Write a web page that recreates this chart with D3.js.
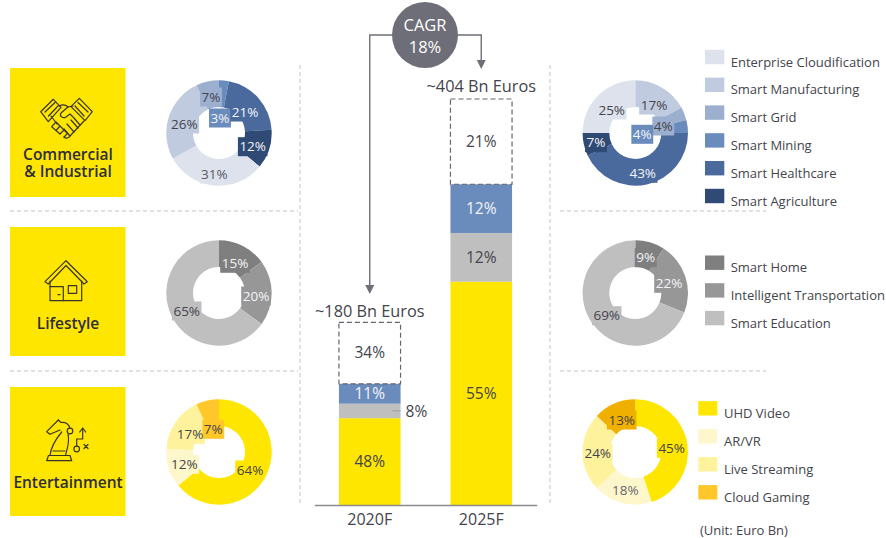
<!DOCTYPE html>
<html>
<head>
<meta charset="utf-8">
<script src="https://cdn.jsdelivr.net/npm/d3@7"></script>
<style>
  html, body { margin: 0; padding: 0; background: #fff; }
  svg { display: block; }
  text { font-family: "Open Sans", sans-serif; fill: #44444c; }
</style>
</head>
<body>
<div id="chart"></div>
<script>
// categories
const commercialCats = ["Enterprise Cloudification", "Smart Manufacturing", "Smart Grid", "Smart Mining", "Smart Healthcare", "Smart Agriculture"];
const lifestyleCats = ["Smart Home", "Intelligent Transportation", "Smart Education"];
const entertainmentCats = ["UHD Video", "AR/VR", "Live Streaming", "Cloud Gaming"];

// donut values, clockwise from 12 o'clock
const commercial2020Order = ["Smart Mining", "Smart Healthcare", "Smart Agriculture", "Enterprise Cloudification", "Smart Manufacturing", "Smart Grid"];
const commercial2020 = [3, 21, 12, 31, 26, 7];
const commercial2025Order = ["Smart Manufacturing", "Smart Grid", "Smart Mining", "Smart Healthcare", "Smart Agriculture", "Enterprise Cloudification"];
const commercial2025 = [17, 4, 4, 43, 7, 25];
const lifestyle2020 = [15, 20, 65];
const lifestyle2025 = [9, 22, 69];
const entertainment2020 = [64, 12, 17, 7];
const entertainment2025 = [45, 18, 24, 13];

// stacked bar
const years = ["2020F", "2025F"];
const totals = [180, 404];
const totalLabels = ["~180 Bn Euros", "~404 Bn Euros"];
const segEntertainment = [48, 55];
const segLifestyle = [8, 12];
const segCommercial = [11, 12];
const segOther = [34, 21];

const tileNames = [["Commercial", "& Industrial"], ["Lifestyle"], ["Entertainment"]];

// colours
const blues = ["#dde2ec", "#c0cbdf", "#9dafcf", "#6a8cbc", "#4a6a9e", "#2f4a75"];
const greys = ["#7f7f7f", "#979797", "#bfbfbf"];
const yellows = ["#ffe600", "#fff7cc", "#fff29c", "#ffc72a"];
const yellows2025 = ["#ffe600", "#fff7cc", "#fff29c", "#f0b000"];
const yellow = "#ffe600", ink = "#44444c", dash = "#c4c4c4";

const colorC = d3.scaleOrdinal(commercialCats, blues);
const colorL = d3.scaleOrdinal(lifestyleCats, greys);
const colorE = d3.scaleOrdinal(entertainmentCats, yellows);
const colorE2 = d3.scaleOrdinal(entertainmentCats, yellows2025);

const width = 886, height = 538;
const svg = d3.select("#chart").append("svg").attr("width", width).attr("height", height);

// dashed separators
const separators = [[300, 65, 300, 505], [550, 65, 550, 505], [10, 211, 298, 211], [10, 371, 298, 371], [560, 211, 766, 211], [560, 371, 766, 371]];
svg.append("g").selectAll("line").data(separators).enter().append("line")
    .attr("x1", d => d[0]).attr("y1", d => d[1]).attr("x2", d => d[2]).attr("y2", d => d[3])
    .attr("stroke", dash).attr("stroke-width", 1).attr("stroke-dasharray", "4 3");

// yellow tiles
const tileTops = [68, 227, 387];
const tiles = svg.append("g").selectAll("g").data(tileNames).enter().append("g")
    .attr("transform", (d, i) => `translate(10,${tileTops[i]})`);
tiles.append("rect").attr("width", 115.5).attr("height", 129).attr("fill", yellow);

const nameY = [91.5, 101.5, 100.5];
tiles.each(function (lines, i) {
    const t = d3.select(this).append("text")
        .attr("y", nameY[i])
        .attr("text-anchor", "middle")
        .attr("font-size", 15.5).attr("font-weight", 600)
        .style("fill", "#2e2e38");
    t.selectAll("tspan").data(lines).enter().append("tspan")
        .attr("x", 58).attr("dy", (d, j) => j ? 17 : 0)
        .text(d => d);
});

// icons, drawn in the tile's own coordinates
const iconInk = "#3a3528";
function icon(i, paths) {
    svg.append("g").attr("transform", `translate(10,${tileTops[i]})`)
        .selectAll("path").data(paths).enter().append("path")
        .attr("d", d => d).attr("fill", "none").attr("stroke", iconInk)
        .attr("stroke-width", 1.2).attr("stroke-linejoin", "round").attr("stroke-linecap", "round");
}
// handshake
icon(0, [
    "M30.7 43.7L43.3 31.3L51 39.3L38.3 53.7Z",
    "M35 44L45 34.5M38.5 48L48 38",
    "M82.3 43.7L69.3 30.3L61 38.7L75 52.7Z",
    "M78 44L68 34.5M74 48L65 38",
    "M41 48L47 56M49 38C53 36 56 37 58 39L63 38",
    "M41.7 58.7L46 54L50 58L46 62.5ZM46 62.5L50 58L54 62L50 66ZM50 66L54 62L57.5 65.5L54 69",
    "M54 69C56 71 59 70 60 68L74 53",
    "M58 39L51 45C49 48 53 51 56 49L60 46L64 50L70 57",
    "M60 68L54 61M64 64L57 56M68 60L61 52"
]);
// house
icon(1, [
    "M35 54.7L56 33.7L77.3 54.7L74 57L56 38.5L38.3 57Z",
    "M40 54V73.7H71.7V54",
    "M40 59.7H53.3V73.7",
    "M58.3 58.7H66.7V66.3H58.3Z",
    "M48 67.7H50"
]);
// knight with play arrow
icon(2, [
    "M36.7 73.7H61.7L60 68.5H38.5Z",
    "M40 68.5C41 60 45 53 51.7 45",
    "M43 64H55",
    "M58 47C60 55 57 62 55.5 68.5",
    "M48.3 33L36.7 44.7L40 47.3L50 43",
    "M48.3 33L51 35.5C55 35 58.5 37 60 41",
    "M66.7 59V52H72.7V41.5",
    "M69.7 45L72.7 41L75.7 45",
    "M74 57.5L78 61.5M78 57.5L74 61.5"
]);
svg.append("g").attr("transform", `translate(10,${tileTops[2]})`).selectAll("circle")
    .data([[60, 44], [66.7, 62]]).enter().append("circle")
    .attr("cx", d => d[0]).attr("cy", d => d[1]).attr("r", 2.8)
    .attr("fill", "none").attr("stroke", iconInk).attr("stroke-width", 1.2);

// donuts
const pie = d3.pie().sort(null).value(d => d.value).startAngle(0).endAngle(2 * Math.PI);
const arc = d3.arc().innerRadius(26).outerRadius(52.7);

function donut(cx, cy, names, values, color, labelPos, labelInk) {
    const data = names.map((n, i) => ({ name: n, value: values[i] }));
    const g = svg.append("g").attr("transform", `translate(${cx},${cy})`);
    const arcs = pie(data);
    g.selectAll("path").data(arcs).enter().append("path")
        .attr("d", arc).attr("fill", d => color(d.data.name));
    // each label sits on a little box of its slice's colour, as in the original
    const boxes = g.append("g").selectAll("rect").data(arcs).enter().append("rect")
        .attr("fill", d => color(d.data.name));
    g.append("g").selectAll("text").data(arcs).enter().append("text")
        .attr("x", (d, i) => labelPos[i][0]).attr("y", (d, i) => labelPos[i][1])
        .attr("text-anchor", "middle").attr("dy", "0.35em")
        .attr("font-size", 13.5)
        .style("fill", (d, i) => labelInk[i])
        .text(d => d.data.value + "%")
        .each(function (d, i) {
            const w = this.getComputedTextLength() + 3;
            d3.select(boxes.nodes()[i])
                .attr("x", labelPos[i][0] - w / 2).attr("width", w)
                .attr("y", labelPos[i][1] - 9.5).attr("height", 19);
        });
}
const white = "#f4f4f8";
donut(219, 133, commercial2020Order, commercial2020, colorC,
    [[1, -15], [26, -21], [33.7, 13.7], [-4.7, 41], [-34.7, -9], [-8, -36]],
    [white, white, white, "#5a5a62", ink, ink]);
donut(635.3, 133, commercial2025Order, commercial2025, colorC,
    [[18.7, -28], [28, -7], [7, 1.3], [7.4, 40.3], [-39.3, 9.7], [-23.6, -23]],
    [ink, ink, white, white, white, ink]);
donut(219, 293, lifestyleCats, lifestyle2020, colorL,
    [[16, -29.7], [37, 3], [-32.3, 18]], [white, white, ink]);
donut(635.3, 293, lifestyleCats, lifestyle2025, colorL,
    [[10.4, -35.3], [33.7, -9.7], [-28.6, 22.7]], [white, white, ink]);
donut(219, 452, entertainmentCats, entertainment2020, colorE,
    [[31, 18], [-34.7, 12.3], [-29, -17.7], [-5.7, -22.7]], [ink, ink, ink, ink]);
donut(635.3, 452, entertainmentCats, entertainment2025, colorE2,
    [[36.4, -3.7], [-10, 38], [-37.6, 1.3], [-13.6, -32]], [ink, "#66666e", ink, ink]);

// stacked bars
const x = d3.scaleBand().domain(years).range([314.3, 536.7]).paddingInner(0.4475).paddingOuter(0.221);
const y = d3.scaleLinear().domain([0, 404]).range([505, 99]);

const segs = [
    { vals: segEntertainment, fill: yellow, ink: ink },
    { vals: segLifestyle, fill: "#bfbfbf", ink: ink },
    { vals: segCommercial, fill: "#6a8cbc", ink: white },
    { vals: segOther, fill: "none", ink: ink, dashed: true }
];
years.forEach((yr, i) => {
    let acc = 0;
    segs.forEach(s => {
        const v = totals[i] * s.vals[i] / 100;
        const top = y(acc + v), bottom = y(acc);
        const r = svg.append("rect")
            .attr("x", x(yr)).attr("y", top)
            .attr("width", x.bandwidth()).attr("height", bottom - top)
            .attr("fill", s.fill);
        if (s.dashed) r.attr("stroke", "#66666e").attr("stroke-width", 1.2).attr("stroke-dasharray", "5 3");
        // the small 8% sits outside the bar with a leader
        if (s.vals[i] === 8) {
            const my = (top + bottom) / 2;
            svg.append("line").attr("x1", x(yr) + x.bandwidth() - 8).attr("x2", x(yr) + x.bandwidth())
                .attr("y1", my).attr("y2", my).attr("stroke", "#9a9a9a");
            svg.append("text").attr("x", x(yr) + x.bandwidth() + 5).attr("y", my + 1).attr("dy", "0.35em")
                .attr("font-size", 15.5).text(s.vals[i] + "%");
        } else {
            svg.append("text").attr("x", x(yr) + x.bandwidth() / 2).attr("y", (top + bottom) / 2).attr("dy", "0.35em")
                .attr("text-anchor", "middle").attr("font-size", 15.5)
                .style("fill", s.ink).text(s.vals[i] + "%");
        }
        acc += v;
    });
    svg.append("text").attr("x", x(yr) + x.bandwidth() / 2).attr("y", y(totals[i]) - 7)
        .attr("text-anchor", "middle").attr("font-size", 16.3).text(totalLabels[i]);
});

const axis = svg.append("g").attr("transform", "translate(0,505)")
    .call(d3.axisBottom(x).tickSize(0).tickPadding(9));
axis.select(".domain").attr("stroke", "#8a8a8a").attr("stroke-width", 1.3);
axis.selectAll("text").attr("font-size", 16).style("font-family", '"Open Sans", sans-serif').style("fill", ink);

// CAGR bubble and connectors
const connector = "#6e6e78";
const cagrX = 425, cagrY = 35;
const tipLeft = 294, tipRight = 69;
const x20 = x("2020F") + x.bandwidth() / 2, x25 = x("2025F") + x.bandwidth() / 2;
svg.append("path").attr("fill", "none").attr("stroke", connector).attr("stroke-width", 1.4)
    .attr("d", `M${cagrX},${cagrY}H${x20}V${tipLeft - 6}`);
svg.append("path").attr("fill", "none").attr("stroke", connector).attr("stroke-width", 1.4)
    .attr("d", `M${cagrX},${cagrY}H${x25}V${tipRight - 6}`);
[[x20, tipLeft], [x25, tipRight]].forEach(([ax, ay]) => {
    svg.append("path").attr("fill", connector).attr("d", `M${ax},${ay}l-4.5,-9h9z`);
});
svg.append("circle").attr("cx", cagrX).attr("cy", cagrY).attr("r", 33).attr("fill", connector);
svg.append("text").attr("x", cagrX).attr("y", 25).attr("dy", "0.35em").attr("text-anchor", "middle").attr("font-size", 16.5).style("fill", "#fff").text("CAGR");
svg.append("text").attr("x", cagrX).attr("y", 47).attr("dy", "0.35em").attr("text-anchor", "middle").attr("font-size", 16.5).style("fill", "#fff").text("18%");

// legends
function legend(sx, tx, firstSwatch, firstText, step, names, color, sw) {
    const g = svg.append("g");
    names.forEach((n, i) => {
        g.append("rect").attr("x", sx).attr("y", firstSwatch + i * step - 7.2)
            .attr("width", sw).attr("height", 14.4).attr("fill", color(n));
        g.append("text").attr("x", tx).attr("y", firstText + i * step).attr("dy", "0.35em")
            .attr("font-size", 13).text(n);
    });
}
legend(705, 730.7, 57, 62, 27.8, commercialCats, colorC, 19.3);
legend(705, 730.7, 262.7, 267.7, 27.7, lifestyleCats, colorL, 19.3);
legend(698.3, 724, 408.3, 413.3, 28, entertainmentCats, colorE, 19);
svg.append("text").attr("x", 700).attr("y", 530.7).attr("dy", "0.35em").attr("font-size", 13).text("(Unit: Euro Bn)");
</script>
</body>
</html>
